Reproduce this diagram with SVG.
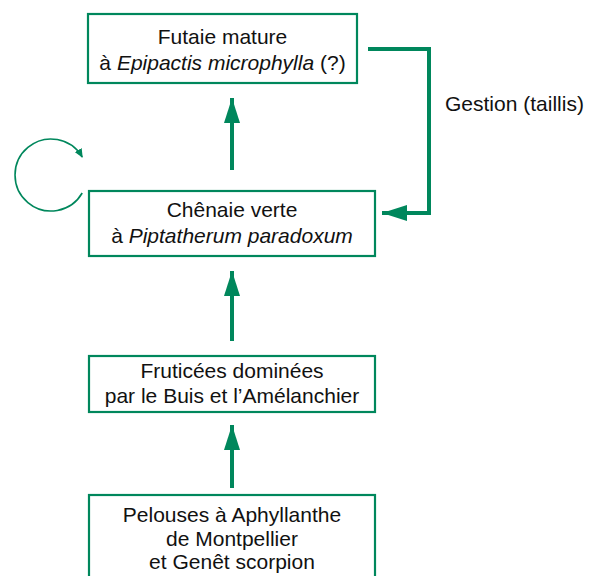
<svg xmlns="http://www.w3.org/2000/svg" width="601" height="576" viewBox="0 0 601 576">
<style>
.box{fill:#fff;stroke:#00875c;stroke-width:2.2}
.t{font-family:"Liberation Sans",Arial,sans-serif;font-size:21px;fill:#111;text-anchor:middle}
.i{font-style:italic}
.c{fill:none;stroke:#00875c;stroke-width:4}
.thin{fill:none;stroke:#00875c;stroke-width:1.6}
</style>
<defs>
<marker id="ah" markerUnits="userSpaceOnUse" markerWidth="26" markerHeight="16" refX="25" refY="8" orient="auto">
<path d="M0,0 L25,8 L0,16 Z" fill="#00875c"/>
</marker>
<marker id="sh" markerUnits="userSpaceOnUse" markerWidth="10" markerHeight="8" refX="8" refY="4" orient="auto">
<path d="M0,0 L9,4 L0,8 Z" fill="#00875c"/>
</marker>
</defs>
<g id="connectors">
<line class="c" x1="232" y1="170" x2="232" y2="98" marker-end="url(#ah)"/>
<line class="c" x1="232" y1="341" x2="232" y2="271" marker-end="url(#ah)"/>
<line class="c" x1="232" y1="488" x2="232" y2="425" marker-end="url(#ah)"/>
<polyline class="c" points="368,49 429,49 429,213 382,213" marker-end="url(#ah)"/>
<path class="thin" d="M82.2,193 A36,36 0 1 1 82.2,157" marker-end="url(#sh)"/>
<text class="t" x="445" y="111" style="text-anchor:start">Gestion (taillis)</text>
</g>
<g id="futaie">
<rect class="box" x="88" y="14" width="269" height="69"/>
<text class="t" x="222.5" y="44">Futaie mature</text>
<text class="t" x="222.5" y="70">à <tspan class="i">Epipactis microphylla</tspan> (?)</text>
</g>
<g id="chenaie">
<rect class="box" x="89" y="191" width="286" height="65"/>
<text class="t" x="232" y="217">Chênaie verte</text>
<text class="t" x="232" y="243">à <tspan class="i">Piptatherum paradoxum</tspan></text>
</g>
<g id="fruticees">
<rect class="box" x="89" y="356" width="286" height="56"/>
<text class="t" x="232" y="378">Fruticées dominées</text>
<text class="t" x="232" y="403">par le Buis et l’Amélanchier</text>
</g>
<g id="pelouses">
<rect class="box" x="89" y="495" width="286" height="90"/>
<text class="t" x="232" y="522">Pelouses à Aphyllanthe</text>
<text class="t" x="232" y="546">de Montpellier</text>
<text class="t" x="232" y="569">et Genêt scorpion</text>
</g>
</svg>
